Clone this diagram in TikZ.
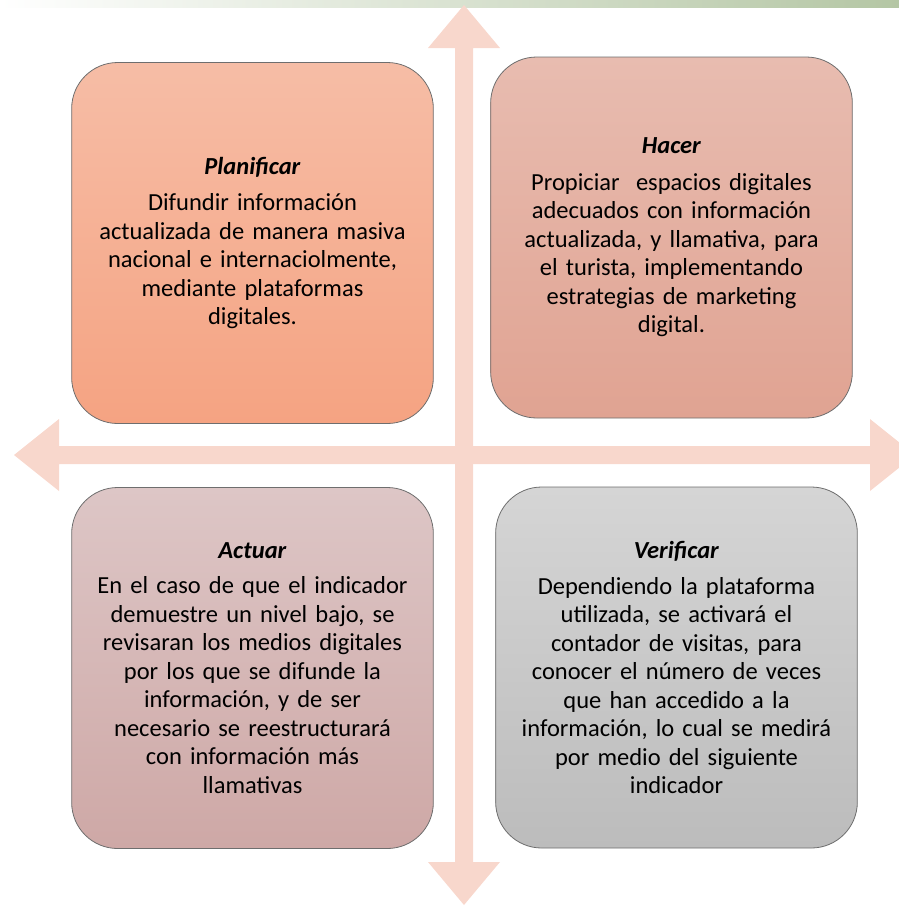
\documentclass[tikz,border=0pt]{standalone}
\usepackage{fontspec}
\setmainfont{Carlito}
\usepackage{xcolor}
\usepackage{tikz}
\usetikzlibrary{positioning,shapes,calc}

\definecolor{crossfill}{HTML}{F8D7CC}
\definecolor{barright}{HTML}{B4C6A4}
\definecolor{boxline}{HTML}{6E6E6E}

\begin{document}
\begin{tikzpicture}[x=1pt, y=-1pt,
		quadrant/.style={draw=boxline, line width=0.8pt, rounded corners=46pt,
		minimum width=361pt, minimum height=361pt, align=center, text width=355pt,
		font=\fontsize{24.5}{28.5}\selectfont}]
	\useasboundingbox (0,0) rectangle (899,906);
	% green bar at the top
	\shade[left color=white, right color=barright] (0,0) rectangle (899,7);
	% cross of double arrows
	\fill[crossfill] (455,48) -- (428,48) -- (464,5) -- (500,48) -- (473,48)
		-- (473,862) -- (500,862) -- (464,905) -- (428,862) -- (455,862) -- cycle;
	\fill[crossfill] (59,446) -- (59,419) -- (14,455) -- (59,491) -- (59,464)
		-- (870,464) -- (870,491) -- (915,455) -- (870,419) -- (870,446) -- cycle;
	% the four quadrants
	\node[quadrant, top color={rgb,255:red,246;green,189;blue,166}, bottom color={rgb,255:red,245;green,163;blue,130}]
		(plan) at (252.5,243) {\textbf{\textit{Planificar}}\\[8pt]
		Difundir información\\ actualizada de manera masiva\\ nacional e internaciolmente,\\
		mediante plataformas\\ digitales.};
	\node[quadrant, top color={rgb,255:red,232;green,188;blue,176}, bottom color={rgb,255:red,224;green,163;blue,146}]
		(hacer) at (671.5,237.5) {\textbf{\textit{Hacer}}\\[8pt]
		Propiciar\ \ espacios digitales\\ adecuados con información\\ actualizada, y llamativa, para\\
		el turista, implementando\\ estrategias de marketing\\ digital.};
	\node[quadrant, top color={rgb,255:red,221;green,198;blue,198}, bottom color={rgb,255:red,206;green,168;blue,166}]
		(actuar) at (252.5,668) {\textbf{\textit{Actuar}}\\[7pt]
		En el caso de que el indicador\\ demuestre un nivel bajo, se\\ revisaran los medios digitales\\
		por los que se difunde la\\ información, y de ser\\ necesario se reestructurará\\
		con información más\\ llamativas};
	\node[quadrant, top color={rgb,255:red,213;green,213;blue,213}, bottom color={rgb,255:red,188;green,188;blue,188}]
		(verif) at (676.5,667.5) {\textbf{\textit{Verificar}}\\[7pt]
		Dependiendo la plataforma\\ utilizada, se activará el\\ contador de visitas, para\\
		conocer el número de veces\\ que han accedido a la\\ información, lo cual se medirá\\
		por medio del siguiente\\ indicador};
\end{tikzpicture}
\end{document}
